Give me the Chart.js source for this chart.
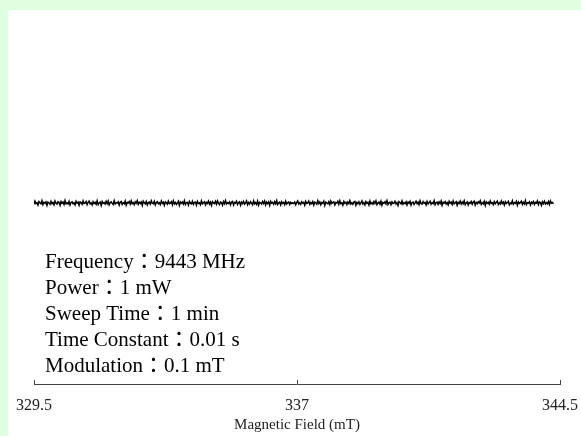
<!DOCTYPE html>
<html>
<head>
<meta charset="utf-8">
<script src="https://cdn.jsdelivr.net/npm/chart.js@4.4.1/dist/chart.umd.min.js"></script>
<style>
  html, body { margin: 0; padding: 0; background: #e0ffe0; width: 581px; height: 436px; overflow: hidden; }
  #wrap { position: absolute; left: 8px; top: 10px; width: 573px; height: 426px; background: #ffffff; }
  canvas { display: block; }
</style>
</head>
<body>
<div id="wrap"><canvas id="esr" width="573" height="426"></canvas></div>
<script>
// ESR sweep: field grid (mT) and recorded signal (arb. units)
const fieldStart = 329.47;
const fieldStep = 0.0286;
const signal = [
  0.8, -1.2, 1.9, -0.5, 0.3, -2.1, 1.4, 0.2, -0.9, 2.3, -1.6, 0.7, -0.3, 1.1, -2.4, 0.9, 0.1, -1.3, 1.7, -0.6,
  0.4, -1.8, 2.0, -0.2, -1.1, 1.3, 0.6, -2.2, 1.5, -0.4, 0.9, -1.5, 2.4, -0.8, 0.2, -1.0, 1.6, -2.0, 0.5, 1.2,
  -0.7, 0.3, -1.9, 1.8, -0.1, 0.8, -2.3, 1.0, 0.4, -1.4, 2.1, -0.6, -0.2, 1.4, -1.7, 0.7, 1.9, -0.9, 0.2, -2.0,
  1.3, -0.5, 0.6, -1.2, 2.2, -1.6, 0.1, 0.9, -2.4, 1.5, -0.3, 0.5, -1.1, 1.7, -0.7, 2.0, -1.8, 0.3, 1.1, -0.4,
  -1.5, 2.3, -0.9, 0.4, -0.1, 1.2, -2.1, 0.8, 1.6, -1.3, 0.2, -0.8, 1.9, -2.2, 0.6, 0.0, 1.4, -1.0, 2.1, -0.6,
  0.3, -1.7, 1.1, -0.2, 2.4, -1.4, 0.7, -0.5, 1.0, -2.3, 1.8, 0.1, -0.9, 1.5, -1.9, 0.4, 0.9, -1.2, 2.2, -0.3,
  -0.8, 1.6, -2.0, 0.5, 1.3, -0.7, 0.2, -1.6, 2.0, -0.4, 0.8, -2.2, 1.2, 0.3, -1.1, 1.9, -0.6, -0.1, 1.4, -1.8,
  2.1, -0.9, 0.6, -1.4, 0.0, 1.7, -2.4, 1.1, -0.3, 0.9, -1.0, 2.3, -1.5, 0.4, 0.7, -2.0, 1.5, -0.2, -0.8, 1.8,
  -1.3, 0.5, 1.0, -2.1, 1.6, -0.5, 0.2, -1.7, 2.2, -0.8, 0.3, 1.2, -1.9, 0.6, -0.4, 1.9, -1.1, 0.8, -2.3, 1.3,
  0.1, -0.6, 1.7, -1.2, 2.0, -0.3, -1.5, 0.9, 0.4, -2.2, 1.4, -0.7, 2.4, -1.0, 0.2, -0.4, 1.1, -1.8, 0.7, 1.5,
  -2.0, 0.6, -0.2, 1.8, -1.4, 0.3, 1.2, -2.3, 0.8, -0.5, 1.6, -1.1, 0.0, 2.1, -1.7, 0.5, -0.9, 1.3, -0.1, -1.6,
  2.2, -0.8, 0.4, -1.3, 1.9, -2.1, 0.7, 0.2, -1.0, 1.5, -0.4, 2.0, -1.9, 0.9, -0.6, 1.1, -2.4, 1.7, -0.2, 0.6,
  -1.2, 1.4, -0.7, 2.3, -1.5, 0.1, 0.8, -2.0, 1.2, -0.3, 0.5, -1.6, 1.9, -0.9, 0.3, 1.0, -1.4, 0.6, -0.5, 0.2,
  -0.4, 1.0, -1.8, 0.6, 2.1, -0.9, 0.3, -1.4, 1.2, -0.2, 0.7, -2.2, 1.6, -0.5, 0.1, 1.9, -1.3, 0.4, -0.7, 1.4,
  -2.0, 0.8, 0.2, -1.1, 2.3, -0.6, 1.0, -1.7, 0.5, -0.3, 1.8, -2.4, 0.9, 0.0, -0.8, 1.3, -1.5, 2.0, -0.4, 0.6,
  1.1, -1.9, 0.4, -0.1, 1.7, -1.2, 2.2, -0.7, 0.3, -2.1, 1.5, -0.2, 0.8, -1.6, 1.0, -0.5, 2.4, -1.0, 0.2, -1.3,
  0.9, 1.6, -2.3, 0.5, -0.6, 1.2, -1.4, 0.1, 2.0, -0.9, 0.4, -1.8, 1.4, -0.3, 0.7, -2.0, 1.9, -0.8, 0.3, -1.1,
  1.5, -0.4, 2.1, -1.6, 0.0, 0.9, -1.2, 1.8, -2.2, 0.6, -0.1, 1.3, -0.9, 2.3, -1.5, 0.2, 0.8, -1.7, 1.1, -0.5,
  -0.2, 1.7, -1.0, 0.4, -2.4, 1.4, 0.6, -0.8, 2.0, -1.3, 0.3, -0.6, 1.2, -1.9, 0.9, -0.3, 1.6, -2.1, 0.5, 1.0,
  -1.4, 0.2, 1.9, -0.7, 0.8, -1.6, 2.2, -0.4, -1.1, 1.3, -0.2, 0.6, -2.0, 1.5, -0.9, 0.1, 1.8, -1.2, 0.4, -0.6,
  2.4, -1.7, 0.3, 0.9, -1.3, 1.1, -0.5, 2.0, -2.2, 0.7, -0.1, 1.4, -1.0, 0.5, -1.8, 1.7, -0.3, 0.8, -1.5, 2.1,
  -0.8, 0.2, 1.3, -2.3, 0.6, -0.4, 1.9, -1.1, 0.9, -0.7, 2.2, -1.6, 0.0, 1.0, -1.9, 0.4, -0.2, 1.5, -1.3, 0.7,
  1.8, -2.0, 0.5, -0.6, 1.2, -0.1, 2.3, -1.4, 0.3, -0.9, 1.6, -2.4, 1.1, -0.3, 0.8, -1.2, 2.0, -0.5, 0.1, -1.7,
  1.4, -0.8, 0.6, 1.9, -1.5, 0.2, -1.0, 2.1, -0.4, 0.9, -2.1, 1.3, -0.6, 0.4, 1.7, -1.8, 0.0, -0.7, 2.2, -1.1,
  0.5, -0.3, 1.6, -2.2, 1.0, -0.5, 0.3, 1.8, -1.4, 0.7, -0.9, 2.4, -1.6, 0.2, -0.2, 1.2, -2.0, 0.8, -0.4, 1.5,
  -1.3, 0.6, -0.1, 2.0, -1.7, 0.9, 0.4, -2.3, 1.1, -0.6, 1.7, -1.0, 0.3, -0.8, 1.4, -1.5, 2.1, -0.2, 0.5, -0.9
];
const tickValues = [329.5, 337, 344.5];
const axisTitle = 'Magnetic Field (mT)';
const conditions = [
  'Frequency：9443 MHz',
  'Power：1 mW',
  'Sweep Time：1 min',
  'Time Constant：0.01 s',
  'Modulation：0.1 mT'
];

const serif = "'Liberation Serif', 'Times New Roman', 'Noto Sans CJK JP', serif";
const points = signal.map((v, i) => ({ x: fieldStart + i * fieldStep, y: v }));

// small tick marks standing up from the field axis
const innerTicks = {
  id: 'innerTicks',
  afterDraw(chart) {
    const s = chart.scales.x, ctx = chart.ctx;
    ctx.save();
    ctx.strokeStyle = '#444';
    ctx.lineWidth = 1;
    ctx.beginPath();
    for (const v of tickValues) {
      const x = Math.round(s.getPixelForValue(v)) + 0.5;
      ctx.moveTo(x, s.top);
      ctx.lineTo(x, s.top - 4);
    }
    ctx.stroke();
    ctx.restore();
  }
};

// measurement conditions block
const conditionText = {
  id: 'conditionText',
  afterDraw(chart) {
    const ctx = chart.ctx, area = chart.chartArea;
    ctx.save();
    ctx.fillStyle = '#000';
    ctx.font = "21px " + serif;
    ctx.textAlign = 'left';
    ctx.textBaseline = 'alphabetic';
    conditions.forEach((t, i) => {
      ctx.fillText(t, area.left + 11, 258 + i * 26);
    });
    ctx.restore();
  }
};

new Chart(document.getElementById('esr'), {
  type: 'line',
  data: {
    datasets: [{
      data: points,
      borderColor: '#000',
      borderWidth: 1.5,
      pointRadius: 0,
      tension: 0,
      fill: false
    }]
  },
  options: {
    responsive: false,
    animation: false,
    devicePixelRatio: 1,
    layout: { padding: { left: 26, right: 21, top: 0, bottom: 0 } },
    plugins: { legend: { display: false }, tooltip: { enabled: false } },
    scales: {
      x: {
        type: 'linear',
        min: 329.5,
        max: 344.5,
        afterBuildTicks: s => { s.ticks = tickValues.map(v => ({ value: v })); },
        afterFit: s => { s.height = 52; s.paddingLeft = 0; s.paddingRight = 0; },
        grid: { display: false, drawTicks: false },
        border: { display: true, color: '#444', width: 1 },
        ticks: {
          padding: 12,
          color: '#222',
          autoSkip: false,
          maxRotation: 0,
          font: { family: serif, size: 16 },
          callback: v => String(v)
        },
        title: {
          display: true,
          text: axisTitle,
          color: '#222',
          font: { family: serif, size: 15 },
          padding: { top: 1, bottom: 2 }
        }
      },
      y: { display: false, min: -181, max: 193 }
    }
  },
  plugins: [innerTicks, conditionText]
});
</script>
</body>
</html>
